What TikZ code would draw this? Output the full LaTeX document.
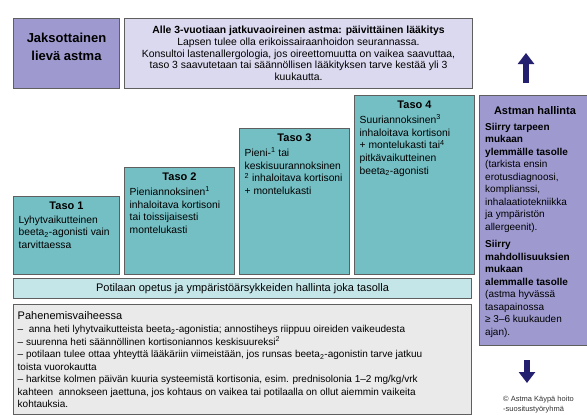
\documentclass[tikz,border=0pt]{standalone}
\usepackage{fontspec}
\setmainfont{Liberation Sans}
\usepackage{xcolor}
\usepackage{tikz}
\usetikzlibrary{positioning, arrows.meta}
\definecolor{lilacbg}{RGB}{158,154,208}
\definecolor{notebg}{RGB}{219,217,239}
\definecolor{stepbg}{RGB}{116,191,196}
\definecolor{teachbg}{RGB}{197,230,233}
\definecolor{flarebg}{RGB}{234,234,234}
\definecolor{boxframe}{RGB}{95,95,95}
\definecolor{arrowblue}{RGB}{36,32,112}

\begin{document}
\begin{tikzpicture}[x=1pt, y=-1pt,
        box/.style={draw=boxframe, line width=1pt, rectangle, anchor=north west, inner sep=0pt},
        stepbox/.style={box, fill=stepbg, minimum width=#1},
        steptitle/.style={inner sep=0pt, anchor=north, font=\fontsize{11}{13}\selectfont\bfseries},
        steptext/.style={inner sep=0pt, anchor=north west, align=left, font=\fontsize{10.3}{12.75}\selectfont},
        bigarr/.style={-{Triangle[width=16pt, length=11pt]}, line width=5.5pt, draw=arrowblue}
    ]
    \useasboundingbox (0,0) rectangle (587,415);

    % Header
    \node[box, fill=lilacbg, minimum width=106, minimum height=70] (mild) at (13,18) {};
    \node[inner sep=0pt, align=center, font=\fontsize{13}{17.5}\selectfont\bfseries] (mildtext) [below=15pt of mild.north] {Jaksottainen\\lievä astma};
    \node[box, fill=notebg, minimum width=348, minimum height=70, align=center, font=\fontsize{10.4}{11.7}\selectfont] (under3) [right=4pt of mild.north east, anchor=north west] {\textbf{Alle 3-vuotiaan jatkuvaoireinen astma: päivittäinen lääkitys}\\Lapsen tulee olla erikoissairaanhoidon seurannassa.\\Konsultoi lastenallergologia, jos oireettomuutta on vaikea saavuttaa,\\taso 3 saavutetaan tai säännöllisen lääkityksen tarve kestää yli 3\\kuukautta.};

    % Steps
    \node[stepbox=106, minimum height=78] (step1) at (13,196) {};
    \node[stepbox=110, minimum height=107] (step2) [right=4pt of step1.south east, anchor=south west] {};
    \node[stepbox=110, minimum height=146] (step3) [right=4pt of step2.south east, anchor=south west] {};
    \node[stepbox=120, minimum height=179] (step4) [right=4pt of step3.south east, anchor=south west] {};

    \node[steptitle] (step1title) [below=6pt of step1.north] {Taso 1};
    \node[steptext] (step1text) [below right=19.5pt and 5.5pt of step1.north west] {Lyhytvaikutteinen\\beeta\textsubscript{2}-agonisti vain\\tarvittaessa};
    \node[steptitle] (step2title) [below=6pt of step2.north] {Taso 2};
    \node[steptext] (step2text) [below right=19.5pt and 5.5pt of step2.north west] {Pieniannoksinen\textsuperscript{1}\\inhaloitava kortisoni\\tai toissijaisesti\\montelukasti};
    \node[steptitle] (step3title) [below=6pt of step3.north] {Taso 3};
    \node[steptext] (step3text) [below right=19.5pt and 5.5pt of step3.north west] {Pieni-\textsuperscript{1} tai\\keskisuurannoksinen\\\textsuperscript{2} inhaloitava kortisoni\\+ montelukasti};
    \node[steptitle] (step4title) [below=6pt of step4.north] {Taso 4};
    \node[steptext] (step4text) [below right=19.5pt and 5.5pt of step4.north west] {Suuriannoksinen\textsuperscript{3}\\inhaloitava kortisoni\\+ montelukasti tai\textsuperscript{4}\\pitkävaikutteinen\\beeta\textsubscript{2}-agonisti};

    % Bottom boxes
    \node[box, fill=teachbg, minimum width=458, minimum height=20, font=\fontsize{11}{13}\selectfont] (teach) [below=3pt of step1.south west, anchor=north west] {Potilaan opetus ja ympäristöärsykkeiden hallinta joka tasolla};
    \node[box, fill=flarebg, minimum width=458, minimum height=110] (flare) [below=5pt of teach.south west, anchor=north west] {};
    \node[steptext, font=\fontsize{11}{13}\selectfont] (flaretitle) [below right=7pt and 4.5pt of flare.north west] {Pahenemisvaiheessa};
    \node[steptext, font=\fontsize{10}{12.5}\selectfont] (flaretext) [below right=21.5pt and 4.5pt of flare.north west] {–\ \ anna heti lyhytvaikutteista beeta\textsubscript{2}-agonistia; annostiheys riippuu oireiden vaikeudesta\\– suurenna heti säännöllinen kortisoniannos keskisuureksi\textsuperscript{2}\\– potilaan tulee ottaa yhteyttä lääkäriin viimeistään, jos runsas beeta\textsubscript{2}-agonistin tarve jatkuu\\toista vuorokautta\\– harkitse kolmen päivän kuuria systeemistä kortisonia, esim. prednisolonia 1–2 mg/kg/vrk\\kahteen\ \ annokseen jaettuna, jos kohtaus on vaikea tai potilaalla on ollut aiemmin vaikeita\\kohtauksia.};

    % Control column
    \node[box, fill=lilacbg, minimum width=111, minimum height=250] (control) [right=4pt of step4.north east, anchor=north west] {};
    \node[steptitle] (controltitle) [below=11pt of control.north] {Astman hallinta};
    \node[steptext, font=\fontsize{10}{12.5}\selectfont] (controltext) [below right=28pt and 6pt of control.north west] {\textbf{Siirry tarpeen}\\\textbf{mukaan}\\\textbf{ylemmälle tasolle}\\(tarkista ensin\\erotusdiagnoosi,\\komplianssi,\\inhalaatiotekniikka\\ja ympäristön\\allergeenit).\\[5pt]\textbf{Siirry}\\\textbf{mahdollisuuksien}\\\textbf{mukaan}\\\textbf{alemmalle tasolle}\\(astma hyvässä\\tasapainossa\\≥ 3–6 kuukauden\\ajan).};

    % Arrows
    \coordinate (upfoot) at (526,83);
    \coordinate (uptip) at (526,53);
    \coordinate (downfoot) at (527,360);
    \coordinate (downtip) at (527,383);
    \draw[bigarr] (upfoot) -- (uptip);
    \draw[bigarr] (downfoot) -- (downtip);

    \node[steptext, font=\fontsize{7.5}{10}\selectfont, text=black!80] (credit) at (503,396) {© Astma Käypä hoito\\-suositustyöryhmä};

\end{tikzpicture}
\end{document}
